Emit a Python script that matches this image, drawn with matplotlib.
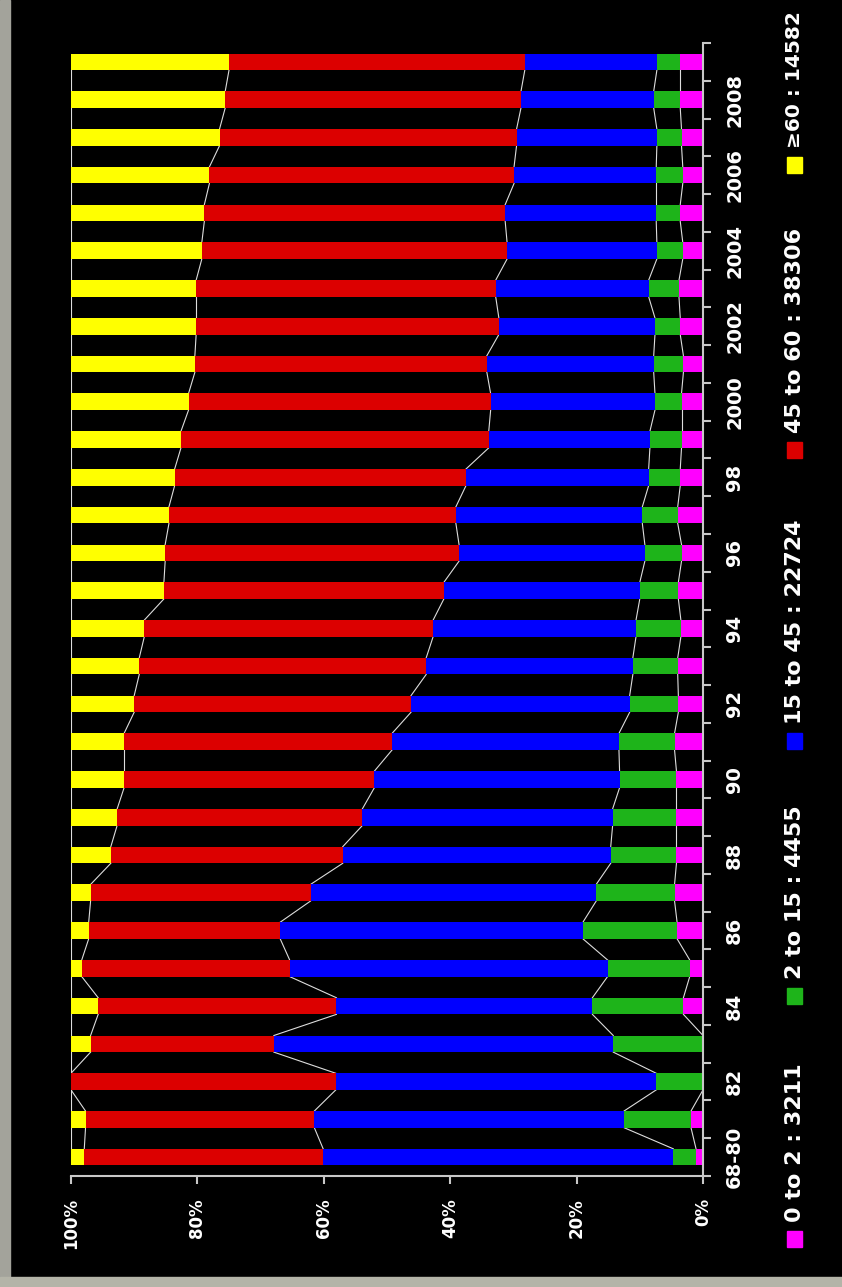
import numpy as np
import matplotlib
matplotlib.use("Agg")
import matplotlib.pyplot as plt
from matplotlib.patches import Rectangle

# categories (bottom to top in the picture)
cats = ["68-80"] + [str(y) for y in range(81, 100)] + [str(y) for y in range(2000, 2010)]
tick_labels = [c if i % 2 == 0 else "" for i, c in enumerate(cats)]

# share of each age group in %
age_0_2 = [1.1, 1.9, 0.0, 0.0, 3.1, 2.1, 4.1, 4.5, 4.2, 4.2, 4.2, 4.5, 3.9, 4.0, 3.5,
           3.9, 3.4, 4.0, 3.6, 3.4, 3.4, 3.1, 3.6, 3.8, 3.2, 3.6, 3.2, 3.4, 3.6, 3.6]
age_2_15 = [3.6, 10.6, 7.4, 14.2, 14.4, 13.0, 14.9, 12.4, 10.4, 10.1, 9.0, 8.8, 7.7, 7.1, 7.1,
            6.1, 5.8, 5.6, 5.0, 5.0, 4.2, 4.7, 4.0, 4.8, 4.1, 3.8, 4.2, 3.9, 4.2, 3.7]
age_15_45 = [55.4, 49.0, 50.7, 53.7, 40.5, 50.3, 47.9, 45.2, 42.4, 39.6, 38.8, 35.9, 34.6, 32.7, 32.1,
             31.0, 29.4, 29.5, 28.9, 25.5, 26.0, 26.4, 24.7, 24.2, 23.7, 23.9, 22.5, 22.2, 21.0, 20.9]
age_45_60 = [37.8, 36.2, 41.9, 29.0, 37.7, 32.9, 30.3, 34.8, 36.7, 38.8, 39.6, 42.4, 43.8, 45.4, 45.7,
             44.3, 46.5, 45.4, 46.1, 48.7, 47.8, 46.2, 47.9, 47.4, 48.3, 47.6, 48.2, 47.0, 46.8, 46.8]
age_60 = [2.1, 2.3, 0.0, 3.1, 4.3, 1.7, 2.8, 3.1, 6.3, 7.3, 8.4, 8.4, 10.0, 10.8, 11.6,
          14.7, 14.9, 15.5, 16.4, 17.4, 18.6, 19.6, 19.8, 19.8, 20.7, 21.1, 21.9, 23.5, 24.4, 25.0]

series = [age_0_2, age_2_15, age_15_45, age_45_60, age_60]
names = ["0 to 2 : 3211", "2 to 15 : 4455", "15 to 45 : 22724", "45 to 60 : 38306", "\u226560 : 14582"]
colors = ["#ff00ff", "#1eb41a", "#0000ff", "#dc0000", "#ffff00"]

W, H = 842, 1287
fig = plt.figure(figsize=(W / 100, H / 100), dpi=100, facecolor="black")

# grey frame on the left and bottom
fig.patches.append(Rectangle((0, 0), 10 / W, 1, transform=fig.transFigure, color="#a3a39b", zorder=0))
fig.patches.append(Rectangle((0, 0), 1, 10 / H, transform=fig.transFigure, color="#b4b4a8", zorder=0))

ax = fig.add_axes([71 / W, 111 / H, 632 / W, 1133 / H])
ax.set_facecolor("black")

y = np.arange(len(cats))
h = 0.44
left = np.zeros(len(cats))
for vals, col in zip(series, colors):
    ax.barh(y, vals, left=left, height=h, color=col, edgecolor="none", zorder=2)
    left = left + np.array(vals)
    # series lines between neighbouring bars
    for i in range(len(cats) - 1):
        ax.plot([left[i], left[i + 1]], [i + h / 2, i + 1 - h / 2], color="#dddddd", lw=0.8, zorder=1)

ax.set_xlim(100, 0)
ax.set_ylim(-0.5, len(cats) - 0.5)

for s in ["top", "left"]:
    ax.spines[s].set_visible(False)
for s in ["bottom", "right"]:
    ax.spines[s].set_color("#c8c8c8")
    ax.spines[s].set_linewidth(1.5)

ax.set_xticks([0, 20, 40, 60, 80, 100])
ax.set_xticklabels(["0%", "20%", "40%", "60%", "80%", "100%"], rotation=90,
                   color="white", fontsize=12, fontweight="bold")
ax.tick_params(axis="x", colors="#c8c8c8", length=6, width=1.5, pad=10, labelcolor="white")

ax.yaxis.tick_right()
ax.set_yticks(y)
ax.set_yticklabels(tick_labels, rotation=90, va="center", ha="left",
                   color="white", fontsize=14, fontweight="bold")
ax.set_yticks(np.arange(-0.5, len(cats), 1), minor=True)
ax.tick_params(axis="y", which="major", length=0, pad=16)
ax.tick_params(axis="y", which="minor", colors="#c8c8c8", length=6, width=1.5)

# rotated legend at the right edge
sq_y = [1239, 996, 741, 450, 165]
sizes = [16, 16, 16, 16, 14.5]
for name, col, yy, fs in zip(names, colors, sq_y, sizes):
    fig.patches.append(Rectangle((787 / W, 1 - (yy + 8) / H), 15 / W, 16 / H,
                                 transform=fig.transFigure, color=col))
    fig.text(795 / W, 1 - (yy - 17) / H, name, rotation=90, ha="center", va="bottom",
             color="white", fontsize=fs, fontweight="bold")

fig.savefig("out.png", dpi=100, facecolor="black")
